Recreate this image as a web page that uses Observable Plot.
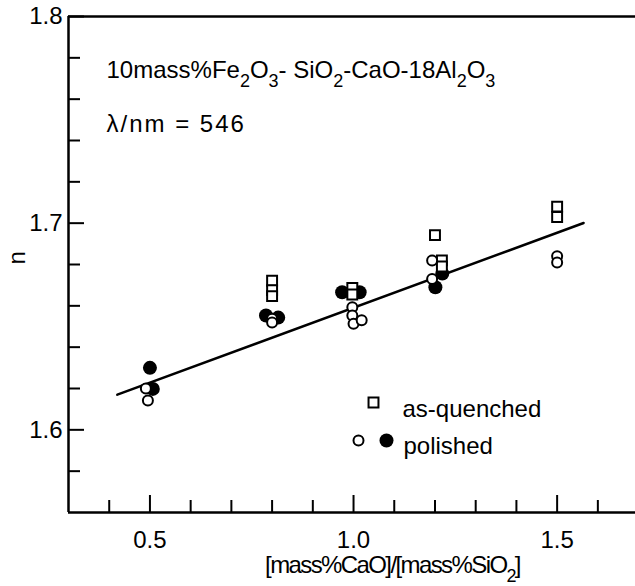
<!DOCTYPE html>
<html><head><meta charset="utf-8">
<script src="https://cdn.jsdelivr.net/npm/d3@7"></script>
<script src="https://cdn.jsdelivr.net/npm/@observablehq/plot@0.6"></script>
<style>body{margin:0;background:#fff} svg{display:block}</style>
</head><body><div id="chart"></div>
<script>
// as-quenched (open squares)
const quenchedX = [0.8, 0.8, 0.8, 0.997, 0.997, 1.2, 1.217, 1.217, 1.5, 1.5];
const quenchedN = [1.6721, 1.6676, 1.6647, 1.6687, 1.6655, 1.6942, 1.682, 1.679, 1.708, 1.703];
// polished (open circles)
const polishedOpenX = [0.49, 0.495, 0.8, 0.8, 0.997, 0.997, 1.0, 1.02, 1.193, 1.193, 1.5, 1.5];
const polishedOpenN = [1.620, 1.6142, 1.6538, 1.6519, 1.6593, 1.6553, 1.6513, 1.653, 1.6819, 1.673, 1.684, 1.681];
// polished (filled circles)
const polishedFilledX = [0.5, 0.507, 0.785, 0.815, 0.972, 1.015, 1.218, 1.201];
const polishedFilledN = [1.630, 1.6198, 1.6553, 1.6543, 1.6666, 1.6666, 1.6756, 1.669];
// fitted line end points
const fitX = [0.42, 1.565];
const fitN = [1.6170, 1.7001];
// ticks
const xMajor = [0.5, 1.0, 1.5];
const xTickLabels = ["0.5", "1.0", "1.5"];
const xMinor = [0.4, 0.6, 0.7, 0.8, 0.9, 1.1, 1.2, 1.3, 1.4, 1.6];
const yMajor = [1.6, 1.7, 1.8];
const yTickLabels = ["1.6", "1.7", "1.8"];
const yMinor = [1.58, 1.62, 1.64, 1.66, 1.68, 1.72, 1.74, 1.76, 1.78];
const xDomain = [0.3, 1.69];
const yDomain = [1.56, 1.8];
// texts
const titleLines = ["10mass%Fe₂O₃- SiO₂-CaO-18Al₂O₃", "λ/nm = 546"];
const xLabel = "[mass%CaO]/[mass%SiO₂]";
const yLabel = "n";
const legendLabels = ["as-quenched", "polished"];

const toRows = (xs, ys) => xs.map((x, i) => ({x, y: ys[i]}));
const quenched = toRows(quenchedX, quenchedN);
const polOpen = toRows(polishedOpenX, polishedOpenN);
const polFilled = toRows(polishedFilledX, polishedFilledN);
const fit = toRows(fitX, fitN);

const font = "'Liberation Sans', Arial, sans-serif";
const chart = Plot.plot({
  width: 635, height: 586,
  marginLeft: 68, marginRight: 1, marginTop: 16, marginBottom: 74,
  x: {domain: xDomain, axis: null},
  y: {domain: yDomain, axis: null},
  style: {fontFamily: font, fontSize: "24px", color: "black", background: "white", overflow: "visible"},
  marks: [
    // frame: left, top, bottom (right edge lies outside the picture)
    Plot.ruleX([xDomain[0]], {stroke: "black", strokeWidth: 2.5}),
    Plot.ruleY(yDomain, {stroke: "black", strokeWidth: 2.5, insetRight: -2}),
    Plot.axisX(xMinor, {tickSize: -12, fill: "none", strokeWidth: 2}),
    Plot.axisX(xMajor, {tickSize: -17, fill: "none", strokeWidth: 2}),
    Plot.axisX(xMajor, {tickSize: 0, tickPadding: 18, stroke: "none", label: null, tickFormat: (d, i) => xTickLabels[i]}),
    Plot.axisY(yMinor, {tickSize: -12, fill: "none", strokeWidth: 2}),
    Plot.axisY(yMajor, {tickSize: -16, fill: "none", strokeWidth: 2}),
    Plot.axisY(yMajor, {tickSize: 0, tickPadding: 6, stroke: "none", label: null, tickFormat: (d, i) => yTickLabels[i]}),
    Plot.line(fit, {x: "x", y: "y", stroke: "black", strokeWidth: 2.5}),
    Plot.dot(polFilled, {x: "x", y: "y", r: 7, fill: "black", stroke: "none"}),
    Plot.dot(quenched, {x: "x", y: "y", symbol: "square", r: 5.6, fill: "white", stroke: "black", strokeWidth: 2}),
    Plot.dot(polOpen, {x: "x", y: "y", r: 5, fill: "white", stroke: "black", strokeWidth: 2}),
    // title
    Plot.text([titleLines[0]], {text: d => d, frameAnchor: "top-left", textAnchor: "start", lineAnchor: "top", dx: 38, dy: 44, className: "subtext"}),
    Plot.text([titleLines[1]], {text: d => d, frameAnchor: "top-left", textAnchor: "start", lineAnchor: "top", dx: 38, dy: 98, className: "lambda"}),
    // axis labels
    Plot.text([xLabel], {text: d => d, frameAnchor: "bottom", dx: 41, dy: 60, className: "xlabel"}),
    Plot.text([yLabel], {text: d => d, frameAnchor: "left", dx: -51, rotate: -90}),
    // legend
    Plot.dot([legendLabels[0]], {frameAnchor: "top-left", dx: 305, dy: 386, symbol: "square", r: 5.6, fill: "white", stroke: "black", strokeWidth: 2}),
    Plot.text([legendLabels[0]], {text: d => d, frameAnchor: "top-left", textAnchor: "start", dx: 334, dy: 383}),
    Plot.dot([legendLabels[1]], {frameAnchor: "top-left", dx: 290, dy: 424, r: 5, fill: "white", stroke: "black", strokeWidth: 2}),
    Plot.dot([legendLabels[1]], {frameAnchor: "top-left", dx: 318, dy: 424, r: 7, fill: "black", stroke: "none"}),
    Plot.text([legendLabels[1]], {text: d => d, frameAnchor: "top-left", textAnchor: "start", dx: 335, dy: 420})
  ]
});

// subscripts as tspans
const subMap = {"₂": "2", "₃": "3"};
d3.select(chart).selectAll("text").each(function() {
  const s = this.textContent;
  if (!/[₂₃]/.test(s)) return;
  const el = d3.select(this);
  el.text(null);
  let shifted = false;
  for (const part of s.split(/([₂₃])/)) {
    if (!part) continue;
    if (subMap[part]) {
      const t = el.append("tspan").attr("font-size", "18px").text(subMap[part]);
      if (!shifted) t.attr("dy", 9);
      shifted = true;
    } else {
      const t = el.append("tspan").text(part);
      if (shifted) t.attr("dy", -9);
      shifted = false;
    }
  }
});
d3.select(chart).selectAll(".xlabel text").style("letter-spacing", "-1.6px");
d3.select(chart).selectAll(".lambda text").style("letter-spacing", "2px");
document.getElementById("chart").append(chart);
</script>
</body></html>
